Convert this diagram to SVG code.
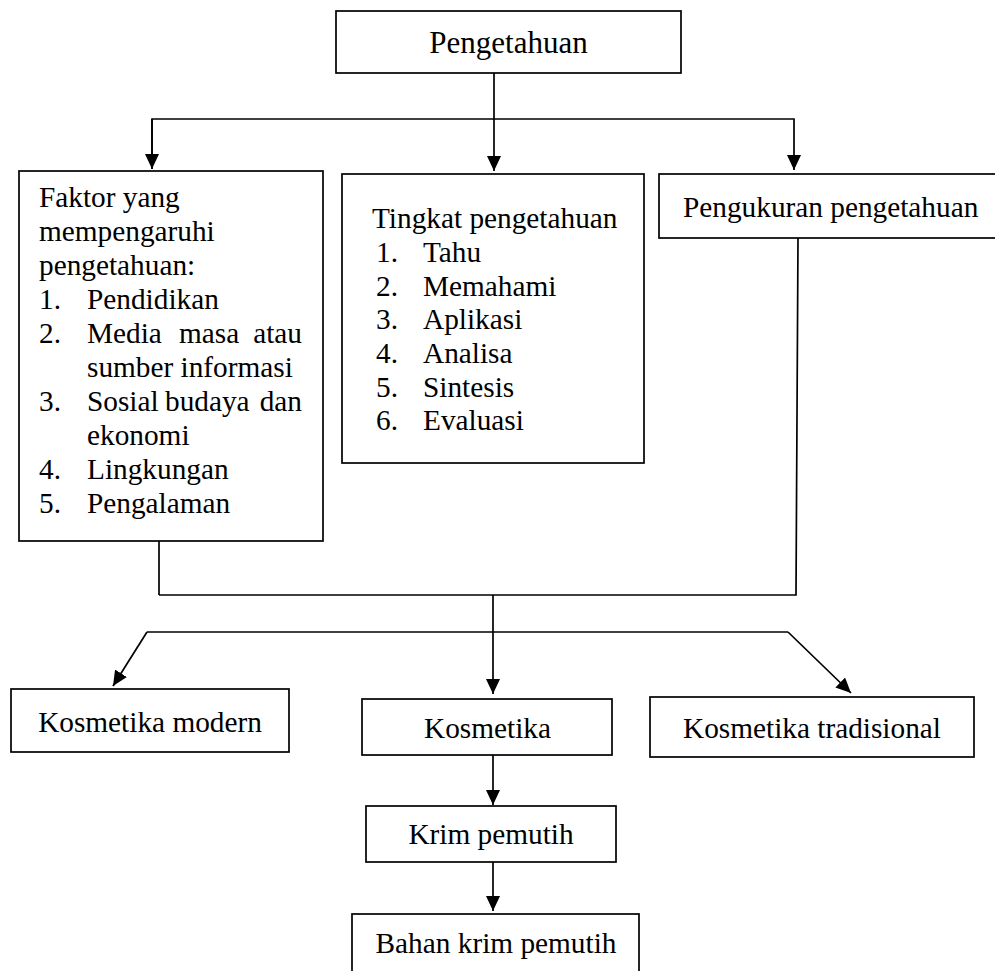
<svg xmlns="http://www.w3.org/2000/svg" width="995" height="971" viewBox="0 0 995 971">
<style>
  .box { fill: #fff; stroke: #000; stroke-width: 1.7; }
  .t { font-family: "Liberation Serif", "Times New Roman", serif; font-size: 29.3px; fill: #000; }
  .tc { text-anchor: middle; }
  .big { font-size: 31px; }
  .ln { fill: none; stroke: #000; stroke-width: 1.7; }
</style>
<defs>
  <marker id="arr" viewBox="0 0 15 14" refX="15" refY="7" markerWidth="15" markerHeight="14" markerUnits="userSpaceOnUse" orient="auto">
    <path d="M0,0 L15,7 L0,14 z" fill="#000"/>
  </marker>
</defs>

<g id="connectors">
  <line class="ln" x1="494" y1="73" x2="494" y2="171" marker-end="url(#arr)"/>
  <polyline class="ln" points="152,169 152,119 794,119 794,170" marker-end="url(#arr)"/>
  <line class="ln" x1="152" y1="119" x2="152" y2="169" marker-end="url(#arr)"/>
  <line class="ln" x1="159" y1="541" x2="159" y2="595"/>
  <polyline class="ln" points="798,238 796,595 159,595"/>
  <line class="ln" x1="493" y1="595" x2="493" y2="694" marker-end="url(#arr)"/>
  <line class="ln" x1="147" y1="632" x2="788" y2="632"/>
  <line class="ln" x1="147" y1="632" x2="113" y2="686" marker-end="url(#arr)"/>
  <line class="ln" x1="788" y1="632" x2="851" y2="693" marker-end="url(#arr)"/>
  <line class="ln" x1="493" y1="755" x2="493" y2="805" marker-end="url(#arr)"/>
  <line class="ln" x1="493" y1="862" x2="493" y2="911" marker-end="url(#arr)"/>
</g>

<g id="pengetahuan">
  <rect class="box" x="336" y="11" width="345" height="62"/>
  <text class="t big tc" x="508.5" y="53">Pengetahuan</text>
</g>

<g id="faktor">
  <rect class="box" x="19" y="171" width="304" height="370"/>
  <text class="t" x="39" y="207">Faktor yang</text>
  <text class="t" x="39" y="241">mempengaruhi</text>
  <text class="t" x="39" y="275">pengetahuan:</text>
  <text class="t" x="39" y="309">1.</text><text class="t" x="87" y="309">Pendidikan</text>
  <text class="t" x="39" y="343">2.</text><text class="t" x="87" y="343">Media</text><text class="t" x="179" y="343">masa</text><text class="t" x="302" y="343" text-anchor="end">atau</text>
  <text class="t" x="87" y="377">sumber informasi</text>
  <text class="t" x="39" y="411">3.</text><text class="t" x="87" y="411">Sosial</text><text class="t" x="165" y="411">budaya</text><text class="t" x="302" y="411" text-anchor="end">dan</text>
  <text class="t" x="87" y="445">ekonomi</text>
  <text class="t" x="39" y="479">4.</text><text class="t" x="87" y="479">Lingkungan</text>
  <text class="t" x="39" y="513">5.</text><text class="t" x="87" y="513">Pengalaman</text>
</g>

<g id="tingkat">
  <rect class="box" x="342" y="174" width="302" height="289"/>
  <text class="t" x="372" y="228">Tingkat pengetahuan</text>
  <text class="t" x="376" y="262">1.</text><text class="t" x="423" y="262">Tahu</text>
  <text class="t" x="376" y="295.5">2.</text><text class="t" x="423" y="295.5">Memahami</text>
  <text class="t" x="376" y="329">3.</text><text class="t" x="423" y="329">Aplikasi</text>
  <text class="t" x="376" y="363">4.</text><text class="t" x="423" y="363">Analisa</text>
  <text class="t" x="376" y="396.5">5.</text><text class="t" x="423" y="396.5">Sintesis</text>
  <text class="t" x="376" y="430">6.</text><text class="t" x="423" y="430">Evaluasi</text>
</g>

<g id="pengukuran">
  <rect class="box" x="659" y="174" width="338" height="64"/>
  <text class="t" x="683" y="217">Pengukuran pengetahuan</text>
</g>

<g id="kosmetika-modern">
  <rect class="box" x="11" y="689" width="278" height="63"/>
  <text class="t tc" x="150" y="732">Kosmetika modern</text>
</g>

<g id="kosmetika">
  <rect class="box" x="362" y="699" width="250" height="56"/>
  <text class="t tc" x="487.5" y="738">Kosmetika</text>
</g>

<g id="kosmetika-tradisional">
  <rect class="box" x="650" y="697" width="324" height="60"/>
  <text class="t tc" x="812" y="738">Kosmetika tradisional</text>
</g>

<g id="krim-pemutih">
  <rect class="box" x="366" y="806" width="250" height="56"/>
  <text class="t tc" x="491" y="844">Krim pemutih</text>
</g>

<g id="bahan-krim-pemutih">
  <rect class="box" x="352" y="914" width="287" height="62"/>
  <text class="t tc" x="496" y="953">Bahan krim pemutih</text>
</g>
</svg>
